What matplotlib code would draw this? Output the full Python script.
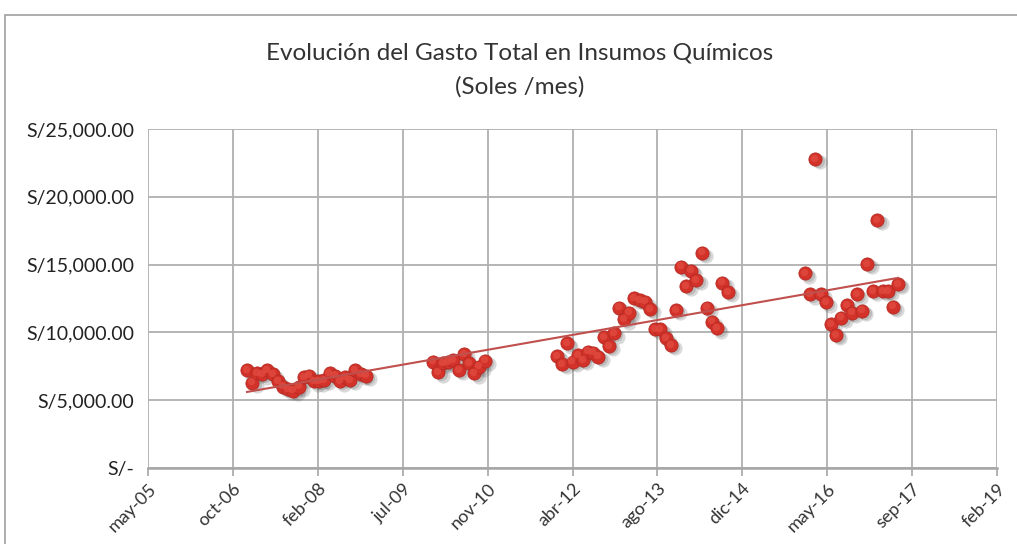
import numpy as np
import matplotlib
matplotlib.use("Agg")
import matplotlib.pyplot as plt
import matplotlib.dates as mdates
from matplotlib.patches import Rectangle
import datetime as dt

# ---- data (monthly totals, soles) ----
start_2007 = "2007-01"
vals_2007_2008 = [7200, 6300, 7000, 6900, 7200, 6900, 6400, 6000, 5800, 5700, 6000, 6700,
                  6800, 6400, 6400, 6500, 7000, 6800, 6400, 6700, 6500, 7200, 6900, 6800]
start_2010 = "2010-01"
vals_2010 = [7840, 7060, 7750, 7800, 7960, 7230, 8400, 7720, 6980, 7470, 7910]
start_2012 = "2012-01"
vals_2012_2014 = [8260, 7670, 9200, 7840, 8330, 7960, 8580, 8500, 8210, 9640, 9000, 9930,
                  11820, 10960, 11450, 12510, 12390, 12270, 11730, 10250, 10230, 9570, 9070, 11650,
                  14850, 13420, 14550, 13860, 15880, 11820, 10790, 10300, 13670, 12980]
start_2016 = "2016-01"
vals_2016_2017 = [14360, 12810, 22790, 12830, 12220, 10600, 9810, 11080, 12020, 11450, 12810, 11600,
                  15040, 13050, 18290, 13050, 13050, 11900, 13570]

tick_labels = ["may-05", "oct-06", "feb-08", "jul-09", "nov-10", "abr-12",
               "ago-13", "dic-14", "may-16", "sep-17", "feb-19"]
ytick_vals = [0, 5000, 10000, 15000, 20000, 25000]
ytick_labels = ["S/-", "S/5,000.00", "S/10,000.00", "S/15,000.00", "S/20,000.00", "S/25,000.00"]
title = "Evolución del Gasto Total en Insumos Químicos\n(Soles /mes)"

def month_dates(start, n):
    y, m = map(int, start.split("-"))
    out = []
    for i in range(n):
        mm = m - 1 + i
        out.append(dt.date(y + mm // 12, mm % 12 + 1, 1))
    return out

dates = (month_dates(start_2007, len(vals_2007_2008)) + month_dates(start_2010, len(vals_2010)) +
         month_dates(start_2012, len(vals_2012_2014)) + month_dates(start_2016, len(vals_2016_2017)))
values = np.array(vals_2007_2008 + vals_2010 + vals_2012_2014 + vals_2016_2017, dtype=float)
xnum = mdates.date2num(dates)

plt.rcParams['font.family'] = ['Lato', 'DejaVu Sans']

fig = plt.figure(figsize=(10.17, 5.44), dpi=100)
# chart border
fig.patches.append(Rectangle((5 / 1017, -0.1), 1.2, (544 - 15) / 544 + 0.1, transform=fig.transFigure,
                             fill=False, edgecolor="#a0a0a0", linewidth=1.2))

ax = fig.add_axes([148 / 1017, 76 / 544, 849 / 1017, 339 / 544])

x0 = mdates.date2num(dt.date(2005, 5, 28))
ticks = x0 + 500 * np.arange(len(tick_labels))
ax.set_xlim(ticks[0], ticks[-1])
ax.set_ylim(0, 25000)
ax.set_xticks(ticks)
ax.set_xticklabels(tick_labels, rotation=45, ha="right", rotation_mode="anchor",
                   fontsize=13, color="#333333")
ax.set_yticks(ytick_vals)
ax.set_yticklabels(ytick_labels, fontsize=14, color="#222222")

ax.grid(True, color="#b0b0b0", linewidth=1.3)
ax.set_axisbelow(True)
for s in ["top", "right", "left"]:
    ax.spines[s].set_visible(False)
ax.spines["bottom"].set_color("#a6a6a6")
ax.spines["bottom"].set_linewidth(1.8)
ax.tick_params(axis="x", direction="out", length=6, color="#a6a6a6", width=1.2, pad=3)
ax.tick_params(axis="y", length=0, pad=10)

# shadow
ax.scatter(xnum + 25, values - 250, s=105, color="#555555", alpha=0.22, linewidths=0, zorder=2)
ax.scatter(xnum + 15, values - 140, s=90, color="#555555", alpha=0.22, linewidths=0, zorder=2)
# markers
ax.scatter(xnum, values, s=90, color="#d2322a", edgecolors="#b52a22", linewidths=0.6, zorder=3)
ax.scatter(xnum - 6, values + 100, s=28, color="#e04a40", linewidths=0, zorder=4, alpha=0.8)

# linear trend
coef = np.polyfit(xnum, values, 1)
xt = np.array([xnum.min(), xnum.max()])
ax.plot(xt, np.polyval(coef, xt), color="#c0504d", linewidth=1.5, zorder=5)

fig.text(520 / 1017, 1 - 70 / 544, title, ha="center", va="center", fontsize=17.5,
         color="#333333", linespacing=1.75)

fig.savefig("out.png", dpi=100)
